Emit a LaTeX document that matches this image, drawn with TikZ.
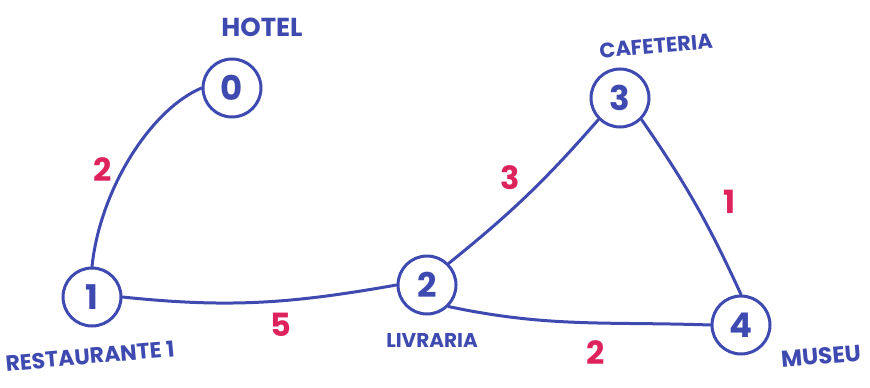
\documentclass[tikz,border=0pt]{standalone}
\usepackage{fontspec}
\setmainfont{Poppins}
\definecolor{pen}{RGB}{62,74,176}
\definecolor{wt}{RGB}{222,34,92}
\begin{document}
\begin{tikzpicture}[x=1pt,y=-1pt,
  place/.style={circle,draw=pen,line width=3pt,minimum size=58pt,inner sep=0pt,text=pen,font=\fontsize{34}{34}\selectfont\bfseries},
  edge/.style={draw=pen,line width=3pt,line cap=round},
  weight/.style={text=wt,font=\fontsize{32}{32}\selectfont\bfseries,inner sep=0pt},
  tag/.style={text=pen,font=\fontsize{20}{20}\selectfont\bfseries,inner sep=0pt}]
\useasboundingbox (0,0) rectangle (870,388);
\node[place] (n0) at (232,88) {0};
\node[place] (n1) at (92,297) {1};
\node[place] (n2) at (427,285) {2};
\node[place] (n3) at (620,98) {3};
\node[place] (n4) at (741,325) {4};
\node[tag,font=\fontsize{26}{26}\selectfont\bfseries] (t0) at (262,27) {HOTEL};
\node[tag,font=\fontsize{22}{22}\selectfont\bfseries,rotate=5] (t1) at (90,356) {RESTAURANTE 1};
\node[tag] (t2) at (432,340) {LIVRARIA};
\node[tag,font=\fontsize{21}{21}\selectfont\bfseries,rotate=5] (t3) at (656,46) {CAFETERIA};
\node[tag,font=\fontsize{23}{23}\selectfont\bfseries,rotate=5] (t4) at (821,356) {MUSEU};
\draw[edge] (n1.north) .. controls (100,190) and (150,110) .. (n0.west);
\draw[edge] (n1.east) to[out=-6,in=190] (n2.west);
\draw[edge] (n2.north east) to[bend right=5] (n3.south west);
\draw[edge] (n3.south east) to[bend left=5] (n4.north);
\draw[edge] (n2.south east) to[out=-12,in=178] (n4.west);
\node[weight] (w01) at (103,170) {2};
\node[weight] (w12) at (281,325) {5};
\node[weight] (w23) at (510,178) {3};
\node[weight] (w24) at (596,353) {2};
\node[weight] (w34) at (730,202) {1};
\end{tikzpicture}
\end{document}
